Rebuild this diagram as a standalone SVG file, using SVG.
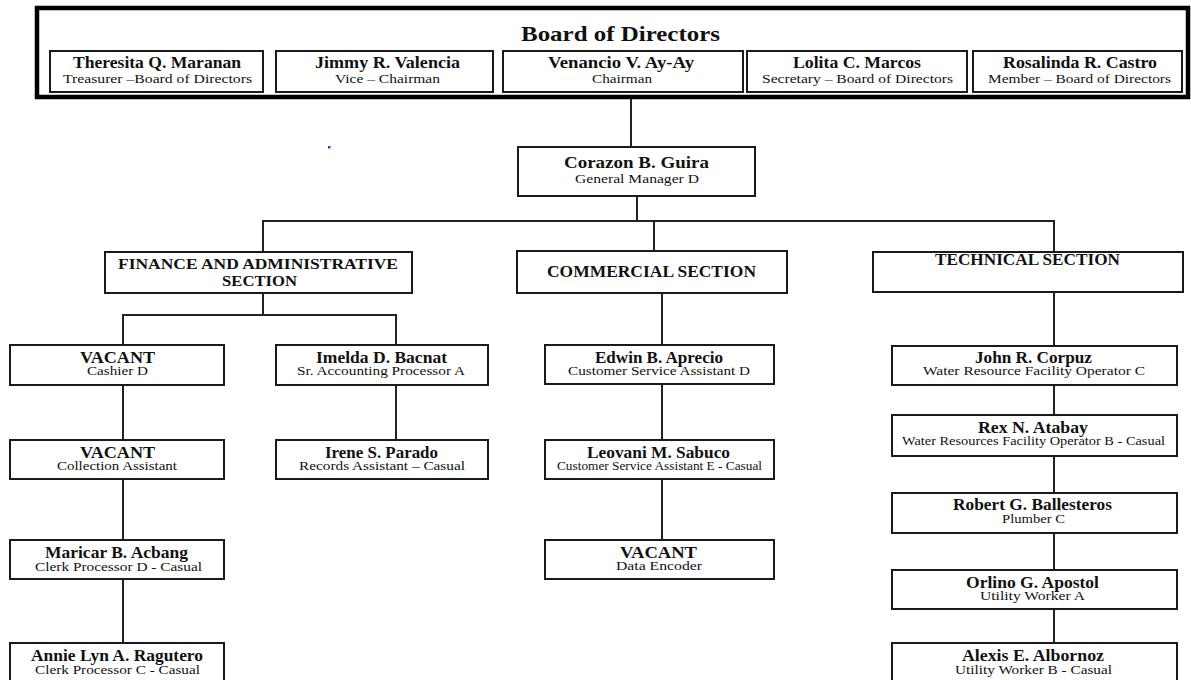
<svg xmlns="http://www.w3.org/2000/svg" width="1191" height="680" viewBox="0 0 1191 680">
  <style>
    .bg { fill: #ffffff; }
    .box { fill: #ffffff; stroke: #1a1a1a; stroke-width: 2; }
    .board { fill: #ffffff; stroke: #000000; stroke-width: 4.5; }
    .wire { fill: none; stroke: #222222; stroke-width: 2; }
    text { font-family: "Liberation Serif", "Times New Roman", serif; fill: #111111; text-anchor: middle; }
    .title { font-size: 22px; font-weight: bold; }
    .sect { font-size: 16.5px; font-weight: bold; }
    .sect2 { font-size: 14.5px; font-weight: bold; }
    .name { font-size: 16.5px; font-weight: bold; }
    .role { font-size: 11.5px; }
  </style>

  <rect class="bg" x="0" y="0" width="1191" height="680"/>

  <!-- connectors -->
  <g id="connectors" class="wire">
    <line x1="631" y1="99" x2="631" y2="147"/>
    <line x1="637" y1="196" x2="637" y2="221"/>
    <line x1="262" y1="221" x2="1055" y2="221"/>
    <line x1="263" y1="221" x2="263" y2="252"/>
    <line x1="654" y1="221" x2="654" y2="251"/>
    <line x1="1054" y1="221" x2="1054" y2="252"/>
    <!-- finance branch -->
    <line x1="263" y1="293" x2="263" y2="315"/>
    <line x1="122" y1="315" x2="397" y2="315"/>
    <line x1="123" y1="315" x2="123" y2="345"/>
    <line x1="396" y1="315" x2="396" y2="345"/>
    <line x1="123" y1="385" x2="123" y2="440"/>
    <line x1="123" y1="479" x2="123" y2="540"/>
    <line x1="123" y1="579" x2="123" y2="643"/>
    <line x1="396" y1="385" x2="396" y2="440"/>
    <!-- commercial branch -->
    <line x1="662" y1="293" x2="662" y2="345"/>
    <line x1="662" y1="384" x2="662" y2="440"/>
    <line x1="662" y1="479" x2="662" y2="540"/>
    <!-- technical branch -->
    <line x1="1054" y1="292" x2="1054" y2="346"/>
    <line x1="1054" y1="385" x2="1054" y2="415"/>
    <line x1="1054" y1="456" x2="1054" y2="493"/>
    <line x1="1054" y1="533" x2="1054" y2="570"/>
    <line x1="1054" y1="609" x2="1054" y2="643"/>
  </g>

  <!-- board of directors -->
  <g id="board">
    <rect class="board" x="37" y="8" width="1151" height="89"/>
    <text class="title" x="620.5" y="41" textLength="199" lengthAdjust="spacingAndGlyphs">Board of Directors</text>
  </g>
  <g id="maranan">
    <rect class="box" x="50" y="51" width="213" height="41"/>
    <text class="name" x="157" y="68" textLength="168" lengthAdjust="spacingAndGlyphs">Theresita Q. Maranan</text>
    <text class="role" x="157.5" y="83" textLength="189" lengthAdjust="spacingAndGlyphs">Treasurer –Board of Directors</text>
  </g>
  <g id="valencia">
    <rect class="box" x="276" y="51" width="217" height="41"/>
    <text class="name" x="387.5" y="68" textLength="145" lengthAdjust="spacingAndGlyphs">Jimmy R. Valencia</text>
    <text class="role" x="387.5" y="83" textLength="105" lengthAdjust="spacingAndGlyphs">Vice – Chairman</text>
  </g>
  <g id="ay-ay">
    <rect class="box" x="503" y="51" width="240" height="41"/>
    <text class="name" x="621" y="68" textLength="146" lengthAdjust="spacingAndGlyphs">Venancio V. Ay-Ay</text>
    <text class="role" x="622" y="83" textLength="60" lengthAdjust="spacingAndGlyphs">Chairman</text>
  </g>
  <g id="marcos">
    <rect class="box" x="747" y="51" width="220" height="41"/>
    <text class="name" x="857" y="68" textLength="128" lengthAdjust="spacingAndGlyphs">Lolita C. Marcos</text>
    <text class="role" x="857.5" y="83" textLength="191" lengthAdjust="spacingAndGlyphs">Secretary – Board of Directors</text>
  </g>
  <g id="castro">
    <rect class="box" x="973" y="51" width="209" height="41"/>
    <text class="name" x="1080" y="68" textLength="154" lengthAdjust="spacingAndGlyphs">Rosalinda R. Castro</text>
    <text class="role" x="1079.5" y="83" textLength="183" lengthAdjust="spacingAndGlyphs">Member – Board of Directors</text>
  </g>

  <!-- stray pen mark -->
  <rect x="328" y="146" width="2.5" height="2.5" fill="#3b3bd6"/>

  <!-- general manager -->
  <g id="guira">
    <rect class="box" x="518" y="147" width="237" height="49"/>
    <text class="name" x="636.5" y="168" textLength="145" lengthAdjust="spacingAndGlyphs">Corazon B.  Guira</text>
    <text class="role" x="637" y="183" textLength="124" lengthAdjust="spacingAndGlyphs">General Manager D</text>
  </g>

  <!-- sections -->
  <g id="finance">
    <rect class="box" x="105" y="252" width="307" height="41"/>
    <text class="sect2" x="258" y="269" textLength="280" lengthAdjust="spacingAndGlyphs">FINANCE AND ADMINISTRATIVE</text>
    <text class="sect2" x="259.5" y="286" textLength="75" lengthAdjust="spacingAndGlyphs">SECTION</text>
  </g>
  <g id="commercial">
    <rect class="box" x="517" y="251" width="270" height="42"/>
    <text class="sect" x="651.5" y="277" textLength="209" lengthAdjust="spacingAndGlyphs">COMMERCIAL SECTION</text>
  </g>
  <g id="technical">
    <rect class="box" x="873" y="252" width="310" height="40"/>
    <text class="sect" x="1027.5" y="265" textLength="185" lengthAdjust="spacingAndGlyphs">TECHNICAL SECTION</text>
  </g>

  <!-- finance staff -->
  <g id="cashier">
    <rect class="box" x="10" y="345" width="214" height="40"/>
    <text class="name" x="117.5" y="363" textLength="75" lengthAdjust="spacingAndGlyphs">VACANT</text>
    <text class="role" x="117.5" y="375" textLength="61" lengthAdjust="spacingAndGlyphs">Cashier D</text>
  </g>
  <g id="collection">
    <rect class="box" x="10" y="440" width="214" height="39"/>
    <text class="name" x="117.5" y="458" textLength="75" lengthAdjust="spacingAndGlyphs">VACANT</text>
    <text class="role" x="117" y="470" textLength="120" lengthAdjust="spacingAndGlyphs">Collection Assistant</text>
  </g>
  <g id="acbang">
    <rect class="box" x="10" y="540" width="214" height="39"/>
    <text class="name" x="116.5" y="558" textLength="143" lengthAdjust="spacingAndGlyphs">Maricar B. Acbang</text>
    <text class="role" x="118.5" y="571" textLength="167" lengthAdjust="spacingAndGlyphs">Clerk Processor D - Casual</text>
  </g>
  <g id="ragutero">
    <rect class="box" x="10" y="643" width="214" height="45"/>
    <text class="name" x="117" y="661" textLength="172" lengthAdjust="spacingAndGlyphs">Annie Lyn A. Ragutero</text>
    <text class="role" x="117.5" y="674" textLength="165" lengthAdjust="spacingAndGlyphs">Clerk Processor C - Casual</text>
  </g>
  <g id="bacnat">
    <rect class="box" x="276" y="345" width="212" height="40"/>
    <text class="name" x="381.5" y="363" textLength="131" lengthAdjust="spacingAndGlyphs">Imelda D. Bacnat</text>
    <text class="role" x="381" y="375" textLength="168" lengthAdjust="spacingAndGlyphs">Sr. Accounting Processor A</text>
  </g>
  <g id="parado">
    <rect class="box" x="276" y="440" width="212" height="39"/>
    <text class="name" x="381.5" y="458" textLength="113" lengthAdjust="spacingAndGlyphs">Irene S. Parado</text>
    <text class="role" x="382" y="470" textLength="166" lengthAdjust="spacingAndGlyphs">Records Assistant – Casual</text>
  </g>

  <!-- commercial staff -->
  <g id="aprecio">
    <rect class="box" x="545" y="345" width="229" height="39"/>
    <text class="name" x="659" y="363" textLength="128" lengthAdjust="spacingAndGlyphs">Edwin B. Aprecio</text>
    <text class="role" x="659" y="375" textLength="182" lengthAdjust="spacingAndGlyphs">Customer Service Assistant D</text>
  </g>
  <g id="sabuco">
    <rect class="box" x="545" y="440" width="229" height="39"/>
    <text class="name" x="658.5" y="458" textLength="143" lengthAdjust="spacingAndGlyphs">Leovani M. Sabuco</text>
    <text class="role" x="659.5" y="470" textLength="205" lengthAdjust="spacingAndGlyphs">Customer Service Assistant E - Casual</text>
  </g>
  <g id="encoder">
    <rect class="box" x="545" y="540" width="229" height="39"/>
    <text class="name" x="658.5" y="558" textLength="77" lengthAdjust="spacingAndGlyphs">VACANT</text>
    <text class="role" x="659" y="570" textLength="86" lengthAdjust="spacingAndGlyphs">Data Encoder</text>
  </g>

  <!-- technical staff -->
  <g id="corpuz">
    <rect class="box" x="892" y="346" width="285" height="39"/>
    <text class="name" x="1033.5" y="363" textLength="117" lengthAdjust="spacingAndGlyphs">John R. Corpuz</text>
    <text class="role" x="1034" y="375" textLength="222" lengthAdjust="spacingAndGlyphs">Water Resource Facility Operator C</text>
  </g>
  <g id="atabay">
    <rect class="box" x="892" y="415" width="285" height="41"/>
    <text class="name" x="1033" y="433" textLength="110" lengthAdjust="spacingAndGlyphs">Rex N. Atabay</text>
    <text class="role" x="1033.5" y="445" textLength="263" lengthAdjust="spacingAndGlyphs">Water Resources Facility Operator B - Casual</text>
  </g>
  <g id="ballesteros">
    <rect class="box" x="892" y="493" width="285" height="40"/>
    <text class="name" x="1032.5" y="510" textLength="159" lengthAdjust="spacingAndGlyphs">Robert G. Ballesteros</text>
    <text class="role" x="1033.5" y="523" textLength="63" lengthAdjust="spacingAndGlyphs">Plumber C</text>
  </g>
  <g id="apostol">
    <rect class="box" x="892" y="570" width="285" height="39"/>
    <text class="name" x="1032.5" y="588" textLength="133" lengthAdjust="spacingAndGlyphs">Orlino G. Apostol</text>
    <text class="role" x="1032.5" y="600" textLength="105" lengthAdjust="spacingAndGlyphs">Utility Worker A</text>
  </g>
  <g id="albornoz">
    <rect class="box" x="892" y="643" width="285" height="45"/>
    <text class="name" x="1033" y="661" textLength="142" lengthAdjust="spacingAndGlyphs">Alexis E. Albornoz</text>
    <text class="role" x="1033.5" y="674" textLength="157" lengthAdjust="spacingAndGlyphs">Utility Worker B - Casual</text>
  </g>
</svg>
